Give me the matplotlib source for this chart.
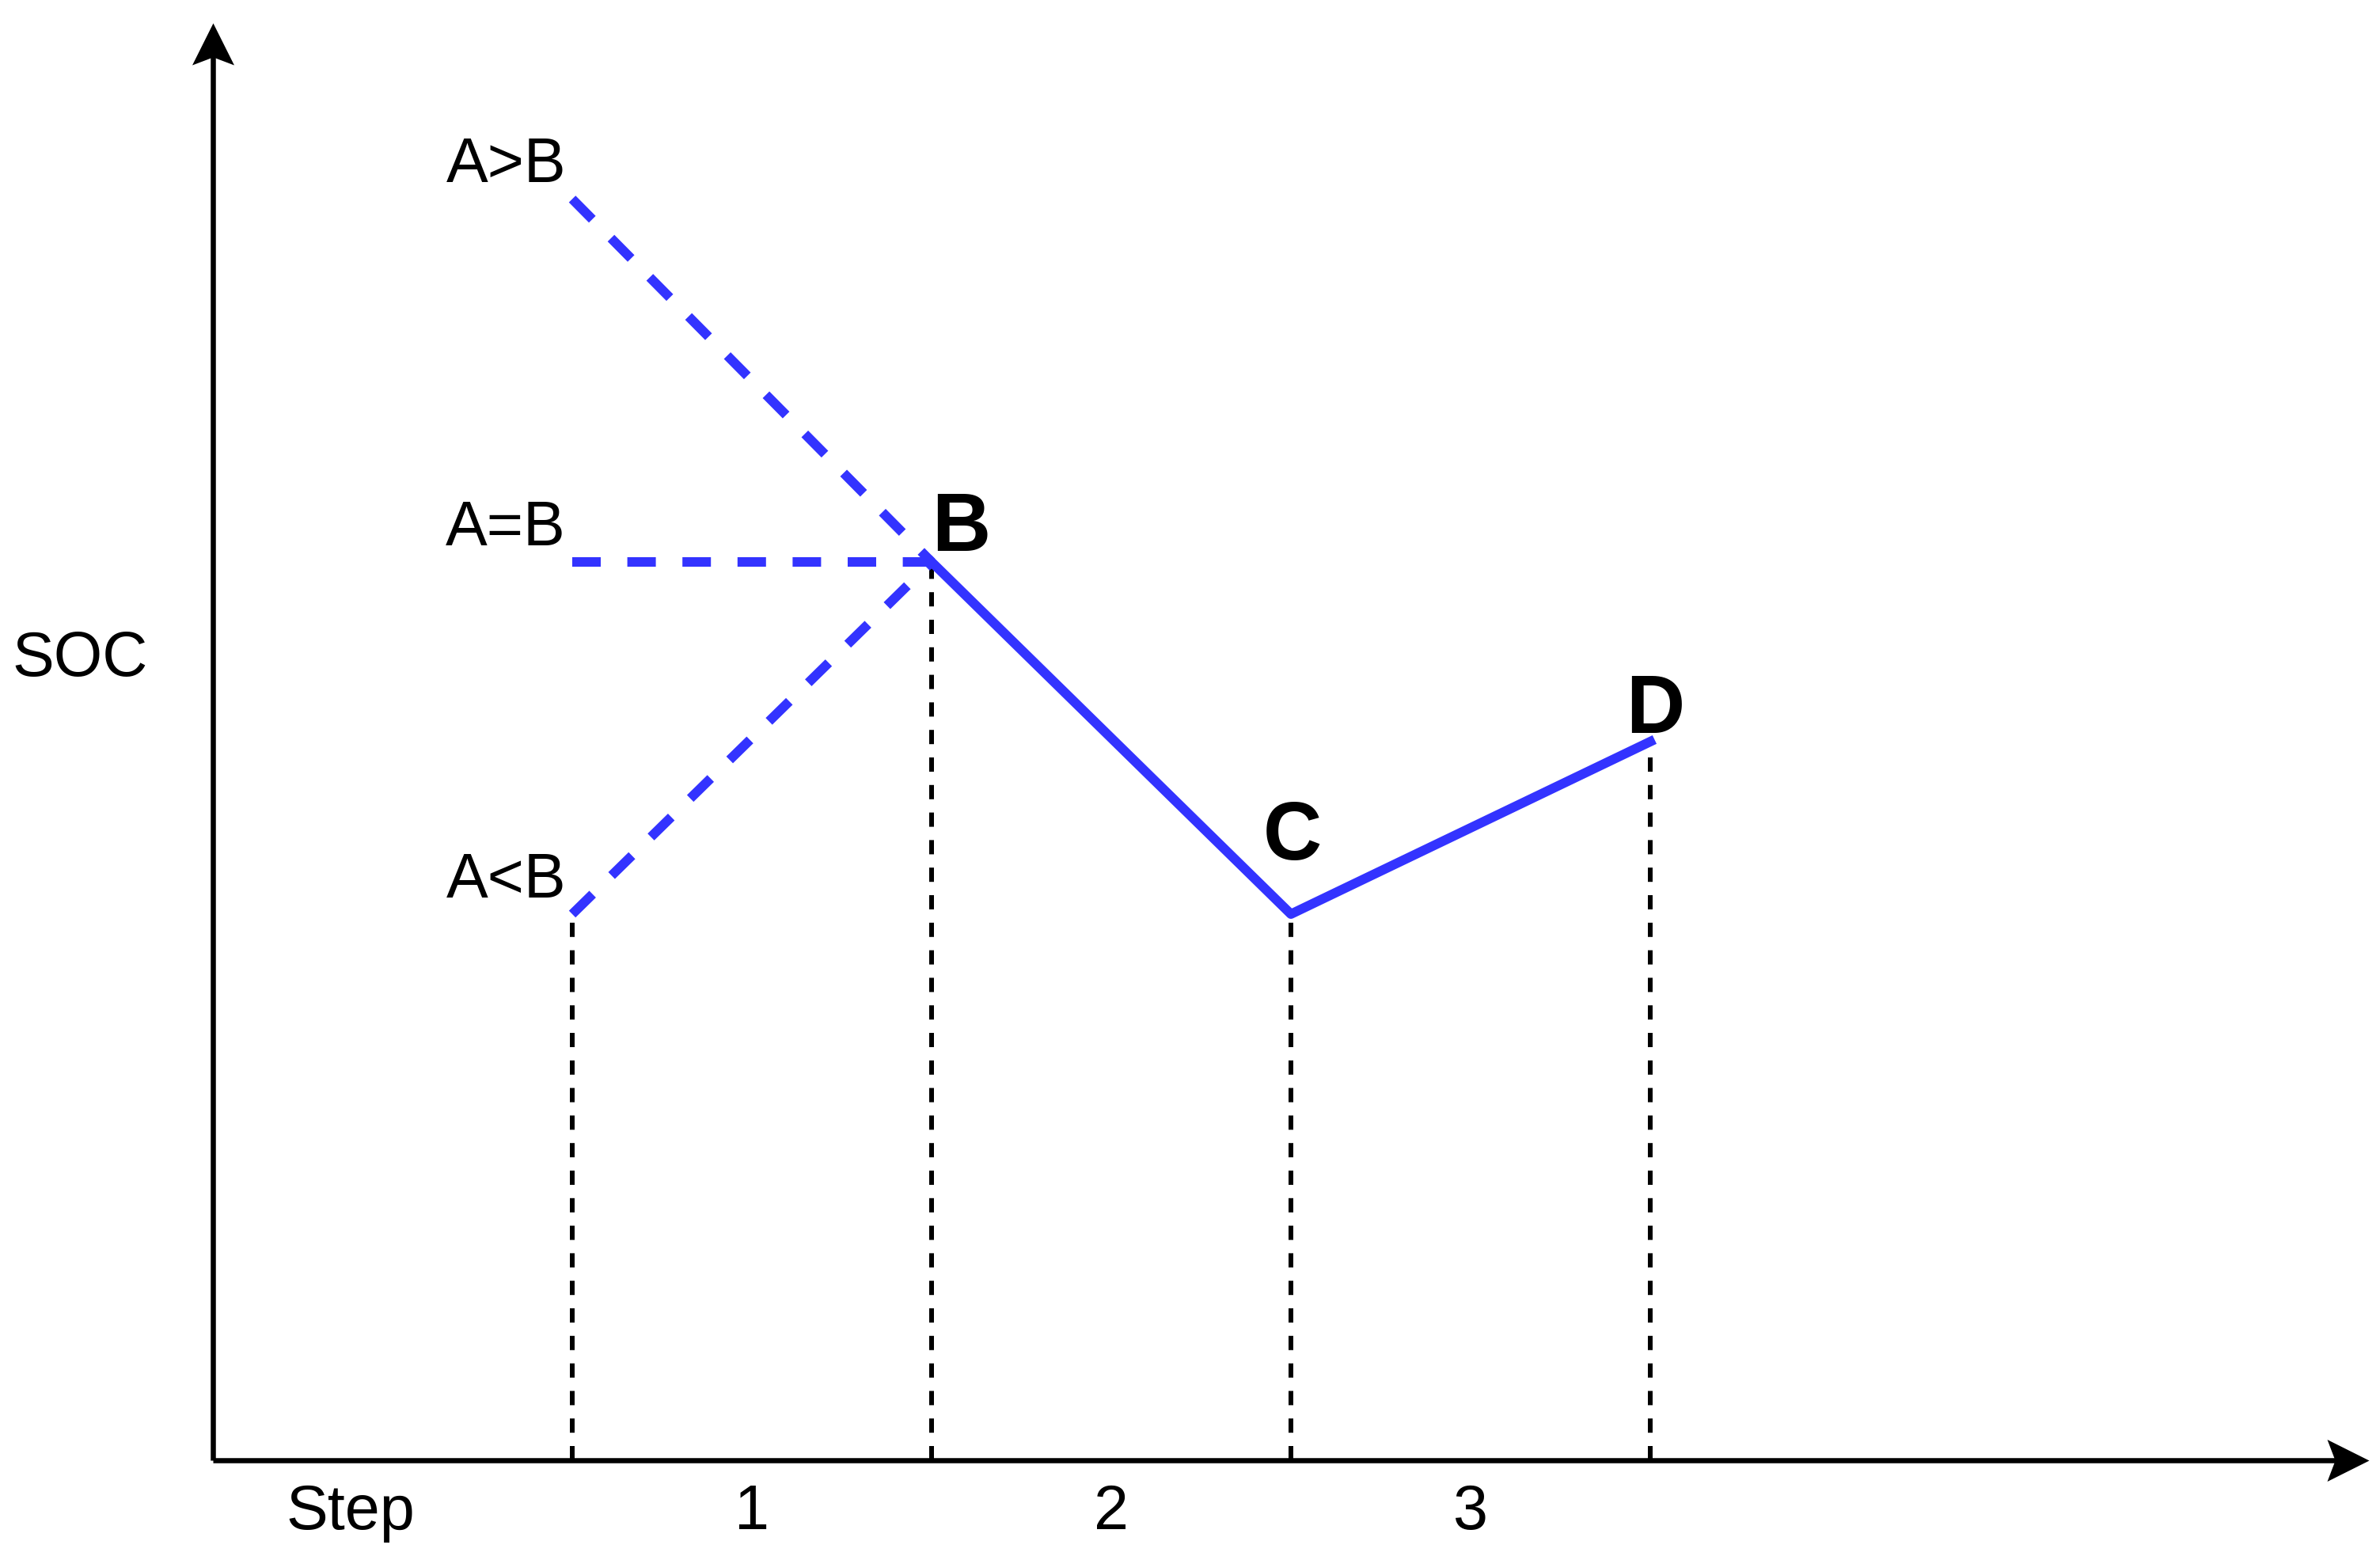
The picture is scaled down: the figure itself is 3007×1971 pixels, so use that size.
import matplotlib.pyplot as plt
from matplotlib.path import Path

plt.rcParams['font.family'] = ['Liberation Sans', 'DejaVu Sans']

# starting SOC cases (at the left guide line)
start_labels = ['A>B', 'A=B', 'A<B']
start_soc = [3.51, 2.5, 1.52]
start_step = 0

# main path B -> C -> D
path_labels = ['B', 'C', 'D']
path_step = [1, 2, 3]
path_soc = [2.5, 1.52, 2.0]

step_ticks = ['1', '2', '3']
tick_pos = [0.5, 1.5, 2.5]

blue = '#3333ff'
DPI = 100

fig = plt.figure(figsize=(30.07, 19.71), dpi=DPI)
ax = fig.add_axes([0, 0, 1, 1])
ax.set_xlim(-1.5925, 5.0308)
ax.set_ylim(-0.2775, 4.0639)
ax.axis('off')

px = 72. / DPI  # pixel -> points

# notched arrow heads (tip at the marker position)
head_right = Path([(0, 0), (-1, 0.5), (-0.81, 0), (-1, -0.5), (0, 0)],
                  [Path.MOVETO, Path.LINETO, Path.LINETO, Path.LINETO, Path.CLOSEPOLY])
head_up = Path([(0, 0), (0.5, -1), (0, -0.81), (-0.5, -1), (0, 0)],
               [Path.MOVETO, Path.LINETO, Path.LINETO, Path.LINETO, Path.CLOSEPOLY])

# axes
ax.plot([-1.0, 4.95], [0, 0], color='black', lw=6.5 * px, solid_capstyle='butt')
ax.plot([-1.0, -1.0], [0, 3.95], color='black', lw=6.5 * px, solid_capstyle='butt')
ax.plot([5.0], [0], marker=head_right, ms=106 * px, color='black', mew=0)
ax.plot([-1.0], [4.0], marker=head_up, ms=106 * px, color='black', mew=0)

# black dashed guides
guide_x = [start_step] + path_step
guide_top = [min(start_soc)] + path_soc
for gx, gt in zip(guide_x, guide_top):
    ax.plot([gx, gx], [0, gt], color='black', lw=6 * px, dashes=(3, 2.8), zorder=2)

# blue dashed starts into B
for lab, s in zip(start_labels, start_soc):
    ax.plot([start_step, path_step[0]], [s, path_soc[0]], color=blue, lw=12 * px,
            dashes=(3.0, 2.8), solid_capstyle='butt', zorder=3)
    ax.annotate(lab, (start_step, s), xytext=(-8 * px, 21 * px), textcoords='offset points',
                ha='right', va='baseline', fontsize=57)

# solid path
ax.plot(path_step, path_soc, color=blue, lw=12 * px, zorder=3)

offsets = [(0, 14, 'left'), (2, 69, 'center'), (6, 11, 'center')]
for lab, xs, ys, (dx, dy, ha) in zip(path_labels, path_step, path_soc, offsets):
    ax.annotate(lab, (xs, ys), xytext=(dx * px, dy * px), textcoords='offset points',
                ha=ha, va='baseline', fontsize=74, fontweight='bold')

# tick labels and axis titles
for t, p in zip(step_ticks, tick_pos):
    ax.text(p, -0.192, t, ha='center', va='baseline', fontsize=57)
ax.text(-0.617, -0.192, 'Step', ha='center', va='baseline', fontsize=57)
ax.text(-1.37, 2.183, 'SOC', ha='center', va='baseline', fontsize=57)

fig.savefig('out.png', dpi=DPI)
